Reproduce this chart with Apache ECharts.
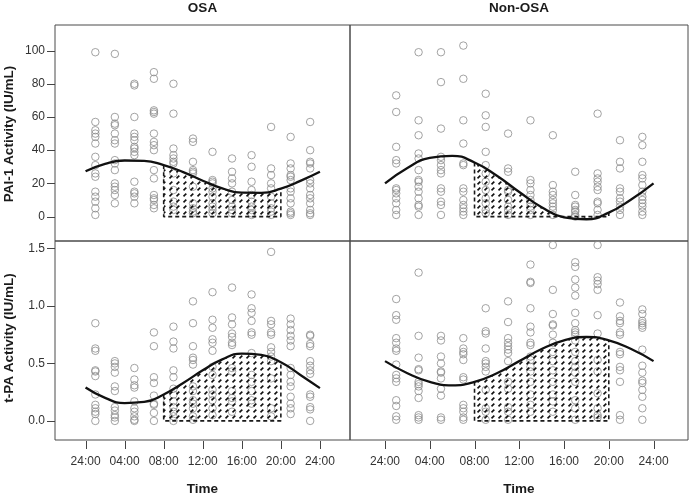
<!DOCTYPE html>
<html><head><meta charset="utf-8">
<script src="https://cdn.jsdelivr.net/npm/echarts@6/dist/echarts.min.js"></script>
<style>html,body{margin:0;padding:0;background:#fff}#c{width:690px;height:496px}</style>
</head><body><div id="c"></div>
<script>
// ---------- data ----------
const sampleHours = [1, 3, 5, 7, 9, 11, 13, 15, 17, 19, 21, 23];
const timeTicks = [0, 4, 8, 12, 16, 20, 24];
const timeTickLabels = ['24:00', '04:00', '08:00', '12:00', '16:00', '20:00', '24:00'];
const paiTicks = [0, 20, 40, 60, 80, 100];
const tpaTicks = [0, 0.5, 1.0, 1.5];
const tpaTickLabels = ['0.0', '0.5', '1.0', '1.5'];
const groupTitles = ['OSA', 'Non-OSA'];
const paiTitle = 'PAI-1 Activity (IU/mL)';
const tpaTitle = 't-PA Activity (IU/mL)';
const xTitle = 'Time';
const hatchStart = 8;
const hatchEnd = 20;

// observed values, one list per sampling hour
const osaPai = [
  [99, 57, 52, 50, 48, 44, 36, 31, 26, 24, 15, 12, 9, 5, 1],
  [98, 60, 56, 55, 50, 46, 44, 34, 32, 28, 20, 18, 16, 13, 8],
  [80, 79, 60, 50, 48, 46, 42, 41, 39, 37, 21, 15, 14, 12, 8],
  [87, 83, 64, 63, 62, 50, 45, 43, 40, 28, 23, 13, 11, 10, 7, 5],
  [80, 62, 41, 37, 35, 33, 32, 26, 16, 9, 6, 4],
  [47, 45, 33, 28, 27, 26, 18, 8, 5, 3, 2],
  [39, 22, 21, 20, 17, 15, 12, 8, 6, 4, 2],
  [35, 27, 23, 20, 15, 10, 6, 4, 2],
  [37, 30, 21, 16, 13, 9, 6, 4, 2, 1],
  [54, 29, 25, 20, 17, 12, 8, 5, 3, 1],
  [48, 32, 29, 25, 24, 22, 17, 15, 11, 8, 3, 2, 1],
  [57, 40, 33, 32, 29, 22, 20, 17, 13, 11, 8, 4, 2, 1]
];
const nonOsaPai = [
  [73, 63, 42, 34, 32, 17, 16, 14, 11, 8, 4, 1],
  [99, 58, 49, 38, 35, 28, 22, 21, 18, 15, 11, 7, 6, 1],
  [99, 81, 53, 36, 34, 31, 28, 26, 17, 15, 9, 7, 1],
  [103, 83, 58, 44, 32, 31, 17, 15, 10, 7, 5, 3, 1],
  [74, 61, 54, 39, 31, 26, 21, 16, 11, 8, 4, 2],
  [50, 29, 27, 16, 15, 10, 6, 4, 1],
  [58, 22, 20, 16, 13, 10, 8, 6, 4, 1],
  [49, 19, 15, 13, 10, 8, 6, 4, 1],
  [27, 13, 7, 6, 4, 3, 1, 0],
  [62, 26, 23, 21, 18, 16, 9, 8, 4, 1],
  [46, 33, 29, 17, 15, 11, 9, 6, 4, 1],
  [48, 43, 33, 25, 23, 19, 15, 12, 10, 8, 6, 3, 1]
];
const osaTpa = [
  [0.85, 0.63, 0.61, 0.44, 0.43, 0.39, 0.23, 0.14, 0.11, 0.08, 0.06, 0.0],
  [0.52, 0.50, 0.47, 0.42, 0.30, 0.26, 0.12, 0.09, 0.05, 0.03, 0.0],
  [0.46, 0.36, 0.31, 0.29, 0.17, 0.11, 0.08, 0.04, 0.01, 0.0],
  [0.77, 0.65, 0.38, 0.33, 0.22, 0.15, 0.14, 0.07, 0.0],
  [0.82, 0.69, 0.63, 0.44, 0.38, 0.28, 0.23, 0.17, 0.12, 0.08, 0.04, 0.0],
  [1.04, 0.85, 0.65, 0.55, 0.53, 0.49, 0.30, 0.26, 0.18, 0.15, 0.11, 0.04, 0.01],
  [1.12, 0.88, 0.81, 0.71, 0.68, 0.61, 0.47, 0.40, 0.27, 0.23, 0.18, 0.11, 0.05],
  [1.16, 0.90, 0.84, 0.76, 0.73, 0.68, 0.66, 0.46, 0.43, 0.26, 0.20, 0.17, 0.08],
  [1.10, 0.98, 0.94, 0.87, 0.77, 0.75, 0.59, 0.40, 0.34, 0.26, 0.18, 0.15],
  [1.47, 0.87, 0.84, 0.77, 0.75, 0.64, 0.60, 0.56, 0.52, 0.37, 0.11, 0.04],
  [0.89, 0.84, 0.79, 0.74, 0.70, 0.65, 0.46, 0.40, 0.34, 0.30, 0.21, 0.15, 0.11, 0.06],
  [0.75, 0.74, 0.67, 0.65, 0.52, 0.48, 0.44, 0.41, 0.23, 0.21, 0.12, 0.10, 0.0]
];
const nonOsaTpa = [
  [1.06, 0.92, 0.88, 0.72, 0.68, 0.63, 0.61, 0.49, 0.40, 0.37, 0.34, 0.18, 0.13, 0.04, 0.01],
  [1.29, 0.74, 0.55, 0.45, 0.44, 0.34, 0.32, 0.30, 0.26, 0.20, 0.05, 0.03, 0.01],
  [0.74, 0.70, 0.56, 0.50, 0.43, 0.42, 0.37, 0.28, 0.22, 0.03, 0.01],
  [0.72, 0.63, 0.60, 0.58, 0.53, 0.38, 0.36, 0.14, 0.11, 0.08, 0.03, 0.01],
  [0.98, 0.78, 0.76, 0.63, 0.52, 0.50, 0.47, 0.43, 0.27, 0.11, 0.08, 0.01],
  [1.04, 0.86, 0.72, 0.68, 0.65, 0.62, 0.59, 0.52, 0.34, 0.28, 0.12, 0.08, 0.01],
  [1.36, 1.21, 1.20, 0.98, 0.82, 0.77, 0.68, 0.66, 0.56, 0.53, 0.47, 0.43, 0.34, 0.23, 0.14, 0.08],
  [1.53, 1.14, 0.93, 0.84, 0.83, 0.75, 0.68, 0.60, 0.52, 0.44, 0.34, 0.23, 0.17, 0.08],
  [1.38, 1.34, 1.23, 1.16, 1.09, 0.94, 0.85, 0.79, 0.77, 0.75, 0.70, 0.60, 0.52, 0.47, 0.42, 0.34, 0.18, 0.11, 0.01],
  [1.53, 1.25, 1.22, 1.19, 1.14, 0.92, 0.76, 0.53, 0.43, 0.24, 0.11, 0.05, 0.03],
  [1.03, 0.91, 0.87, 0.85, 0.77, 0.75, 0.60, 0.58, 0.47, 0.44, 0.34, 0.05, 0.01],
  [0.97, 0.93, 0.87, 0.85, 0.83, 0.81, 0.62, 0.48, 0.42, 0.35, 0.33, 0.27, 0.21, 0.11, 0.01]
];

// fitted rhythm curves every 2 hours
const curveHours = [0, 2, 4, 6, 8, 10, 12, 14, 16, 18, 20, 22, 24];
const osaPaiCurve = [27.3, 31.8, 33.8, 33.6, 31.0, 26.8, 21.6, 17.0, 14.4, 14.3, 16.8, 21.5, 27.0];
const nonOsaPaiCurve = [20.0, 29.3, 35.4, 36.6, 32.6, 24.6, 14.8, 5.7, -0.4, -1.6, 2.4, 10.3, 20.0];
const osaTpaCurve = [0.29, 0.20, 0.155, 0.165, 0.23, 0.33, 0.44, 0.535, 0.585, 0.575, 0.51, 0.40, 0.285];
const nonOsaTpaCurve = [0.52, 0.415, 0.34, 0.31, 0.34, 0.415, 0.52, 0.625, 0.70, 0.73, 0.70, 0.625, 0.52];

// ---------- chart ----------
const FONT = '"Liberation Sans", Arial, sans-serif';
const chart = echarts.init(document.getElementById('c'), null, {renderer: 'canvas'});

const pc = document.createElement('canvas');
pc.width = 7; pc.height = 6;
const pctx = pc.getContext('2d');
pctx.strokeStyle = '#111';
pctx.lineWidth = 1.6;
pctx.lineCap = 'butt';
pctx.beginPath(); pctx.moveTo(1.5, 4.4); pctx.lineTo(4.3, 1.6); pctx.stroke();

const BORDER = '#4a4a4a';
const TICK_COLOR = '#444';
const TICK_LEN = 8;
const grids = [
  {left: 55, top: 25, width: 295, height: 216},
  {left: 350, top: 25, width: 338, height: 216},
  {left: 55, top: 241, width: 295, height: 199},
  {left: 350, top: 241, width: 338, height: 199}
].map(g => Object.assign(g, {show: true, borderColor: BORDER, borderWidth: 1, backgroundColor: 'transparent'}));

const X_MIN = -3.13, X_MAX = 27.08;
const yRanges = [[-14.7, 115.4], [-14.7, 115.4], [-0.166, 1.565], [-0.166, 1.565]];
const xAxes = grids.map((g, i) => ({
  type: 'value', gridIndex: i, min: X_MIN, max: X_MAX, position: 'bottom',
  axisLine: {show: false, onZero: false}, splitLine: {show: false}, axisTick: {show: false},
  axisLabel: {show: i >= 2, customValues: timeTicks, margin: 16, fontFamily: FONT, fontSize: 12, color: '#333',
    formatter: v => timeTickLabels[timeTicks.indexOf(v)]}
}));
const yAxes = grids.map((g, i) => {
  const ticks = i < 2 ? paiTicks : tpaTicks;
  return {
    type: 'value', gridIndex: i, min: yRanges[i][0], max: yRanges[i][1], position: 'left',
    axisLine: {show: false, onZero: false}, splitLine: {show: false}, axisTick: {show: false},
    axisLabel: {show: i % 2 === 0, customValues: ticks, margin: 10, fontFamily: FONT, fontSize: 12, color: '#333',
      formatter: v => i < 2 ? String(v) : tpaTickLabels[tpaTicks.indexOf(v)]}
  };
});

const panels = [
  {pts: osaPai, curve: osaPaiCurve},
  {pts: nonOsaPai, curve: nonOsaPaiCurve},
  {pts: osaTpa, curve: osaTpaCurve},
  {pts: nonOsaTpa, curve: nonOsaTpaCurve}
];
const series = [];
panels.forEach((p, gi) => {
  const scatterData = [];
  p.pts.forEach((col, i) => col.forEach(v => scatterData.push([sampleHours[i], v])));
  const curveData = curveHours.map((t, i) => [t, p.curve[i]]);
  const hatchData = curveData.filter(d => d[0] >= hatchStart && d[0] <= hatchEnd);
  const cStart = p.curve[curveHours.indexOf(hatchStart)];
  const cEnd = p.curve[curveHours.indexOf(hatchEnd)];
  series.push({
    type: 'scatter', xAxisIndex: gi, yAxisIndex: gi, data: scatterData, symbol: 'circle', symbolSize: 7.5,
    itemStyle: {color: 'rgba(0,0,0,0)', borderColor: '#8c8c8c', borderWidth: 1}, silent: true, z: 2
  });
  series.push({
    type: 'line', xAxisIndex: gi, yAxisIndex: gi, data: hatchData, smooth: true, showSymbol: false, symbol: 'none',
    lineStyle: {width: 0}, areaStyle: {color: {image: pc, repeat: 'repeat'}, opacity: 1, origin: 0}, silent: true, z: 3
  });
  series.push({
    type: 'line', xAxisIndex: gi, yAxisIndex: gi,
    data: [[hatchStart, cStart], [hatchStart, 0], [hatchEnd, 0], [hatchEnd, cEnd]],
    showSymbol: false, symbol: 'none', lineStyle: {color: '#1a1a1a', width: 1.6, type: [4, 3]}, silent: true, z: 4
  });
  series.push({
    type: 'line', xAxisIndex: gi, yAxisIndex: gi, data: curveData, smooth: true, showSymbol: false, symbol: 'none',
    lineStyle: {color: '#111', width: 2.3}, silent: true, z: 5
  });
});

const textEl = (txt, x, y, rot) => ({
  type: 'text', x: x, y: y, rotation: rot || 0,
  style: {text: txt, font: 'bold 13.5px ' + FONT, fill: '#1a1a1a', textAlign: 'center', textVerticalAlign: 'middle'}
});

chart.setOption({
  animation: false,
  backgroundColor: '#fff',
  grid: grids, xAxis: xAxes, yAxis: yAxes, series: series,
  graphic: [
    textEl(groupTitles[0], 202.5, 8),
    textEl(groupTitles[1], 519, 8),
    textEl(xTitle, 202.5, 489),
    textEl(xTitle, 519, 489),
    textEl(paiTitle, 9, 134, Math.PI / 2),
    textEl(tpaTitle, 9, 338, Math.PI / 2)
  ]
});

// outward tick marks, positioned through each panel's own axes (drawn as thin filled rects)
const tickEls = [];
[2, 3].forEach(gi => timeTicks.forEach(t => {
  const pt = chart.convertToPixel({gridIndex: gi}, [t, yRanges[gi][0]]);
  const x = Math.round(pt[0]), y = Math.round(pt[1]) + 1;
  tickEls.push({type: 'rect', shape: {x: x, y: y, width: 1, height: TICK_LEN}, style: {fill: TICK_COLOR}, silent: true, z: 10});
}));
[[0, paiTicks], [2, tpaTicks]].forEach(([gi, ticks]) => ticks.forEach(v => {
  const pt = chart.convertToPixel({gridIndex: gi}, [X_MIN, v]);
  const x = Math.round(pt[0]), y = Math.round(pt[1]);
  tickEls.push({type: 'rect', shape: {x: x - TICK_LEN, y: y, width: TICK_LEN, height: 1}, style: {fill: TICK_COLOR}, silent: true, z: 10});
}));
chart.setOption({graphic: tickEls.map((el, k) => Object.assign({id: 'tick' + k}, el))});
</script>
</body></html>
